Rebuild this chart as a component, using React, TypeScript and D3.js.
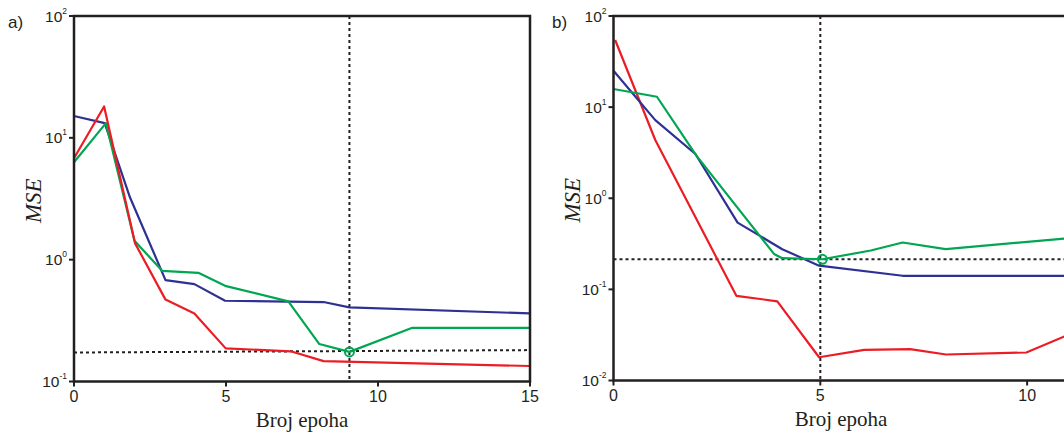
import React from 'react';
import * as d3 from 'd3';

// ---------- data ----------
const xTicksA = [0, 5, 10, 15];
const xTicksB = [0, 5, 10];
const yExpA = [-1, 0, 1, 2];
const yExpB = [-2, -1, 0, 1, 2];

// Panel a)
const aBlueX = [0, 1.01, 1.84, 3.01, 3.96, 4.97, 8.21, 9.06, 15];
const aBlueY = [15.1, 13.2, 3.25, 0.68, 0.63, 0.46, 0.449, 0.406, 0.362];
const aGreenX = [0, 1.05, 1.99, 2.9, 4.09, 4.97, 7.05, 8.07, 9.06, 11.13, 15];
const aGreenY = [6.31, 13.2, 1.43, 0.81, 0.78, 0.61, 0.455, 0.203, 0.175, 0.276, 0.276];
const aRedX = [0, 0.99, 2.01, 3.01, 3.96, 4.99, 7.13, 8.21, 15];
const aRedY = [6.8, 18.1, 1.36, 0.47, 0.362, 0.187, 0.177, 0.147, 0.134];
const aHLineX = [0, 15];
const aHLineY = [0.173, 0.181];
const aBestEpoch = 9.06;
const aBestValue = 0.175;

// Panel b)
const bRedX = [0.04, 1.01, 2.97, 3.96, 4.97, 6.06, 7.17, 8.04, 9.98, 10.9, 11];
const bRedY = [54.5, 4.36, 0.085, 0.074, 0.018, 0.0217, 0.0221, 0.0193, 0.0203, 0.0304, 0.0316];
const bBlueX = [0, 1.01, 1.98, 3.0, 4.08, 4.97, 6.99, 11];
const bBlueY = [25.1, 7.2, 3.06, 0.54, 0.276, 0.182, 0.141, 0.141];
const bGreenX = [0, 1.05, 2.0, 3.88, 4.08, 5.05, 6.22, 6.99, 8.03, 10.9, 11];
const bGreenY = [15.8, 13.0, 2.95, 0.245, 0.22, 0.214, 0.267, 0.327, 0.276, 0.361, 0.363];
const bHLineX = [0, 11];
const bHLineY = [0.214, 0.214];
const bBestEpoch = 5.05;
const bBestValue = 0.214;
const bVLineEpoch = 5;

const RED = '#ec1c24';
const BLUE = '#2e3192';
const GREEN = '#00a651';
const AXIS = '#231f20';

type Series = { xs: number[]; ys: number[]; color: string };

interface PanelProps {
  label: string;
  left: number;
  top: number;
  width: number;
  height: number;
  xMax: number;
  yMinExp: number;
  xTicks: number[];
  yExps: number[];
  series: Series[];
  hx: number[];
  hy: number[];
  vEpoch: number;
  best: [number, number];
  labelX: number;
  mseX: number;
}

function Panel(p: PanelProps) {
  const x = d3.scaleLinear().domain([0, p.xMax]).range([p.left, p.left + p.width]);
  const y = d3
    .scaleLog()
    .domain([Math.pow(10, p.yMinExp), 100])
    .range([p.top + p.height, p.top]);
  const line = d3
    .line<[number, number]>()
    .x((d) => x(d[0]))
    .y((d) => y(d[1]));
  const bottom = p.top + p.height;
  const hPts: [number, number][] = p.hx.map((v, i) => [v, p.hy[i]]);
  return (
    <g>
      <text x={p.labelX} y={28} fontFamily="Liberation Sans, Arial, sans-serif" fontSize={17} fill={AXIS}>
        {p.label}
      </text>
      {/* dotted reference lines */}
      <path d={line(hPts) || ''} fill="none" stroke={AXIS} strokeWidth={2} strokeDasharray="3,3" />
      <line
        x1={x(p.vEpoch)}
        x2={x(p.vEpoch)}
        y1={p.top}
        y2={bottom}
        stroke={AXIS}
        strokeWidth={2}
        strokeDasharray="3,3"
      />
      {p.series.map((s, i) => (
        <path
          key={i}
          d={line(s.xs.map((v, j) => [v, s.ys[j]] as [number, number])) || ''}
          fill="none"
          stroke={s.color}
          strokeWidth={2.2}
          strokeLinejoin="round"
        />
      ))}
      <circle cx={x(p.best[0])} cy={y(p.best[1])} r={4.5} fill="none" stroke={GREEN} strokeWidth={2} />
      {/* frame */}
      <rect x={p.left} y={p.top} width={p.width} height={p.height} fill="none" stroke={AXIS} strokeWidth={2.5} />
      {/* x ticks */}
      {p.xTicks.map((t) => (
        <g key={'x' + t}>
          <line x1={x(t)} x2={x(t)} y1={bottom} y2={bottom + 5} stroke={AXIS} strokeWidth={2} />
          <text
            x={x(t)}
            y={bottom + 20}
            textAnchor="middle"
            fontFamily="Liberation Sans, Arial, sans-serif"
            fontSize={16}
            fill={AXIS}
          >
            {t}
          </text>
        </g>
      ))}
      {/* y ticks */}
      {p.yExps.map((e) => {
        const yy = y(Math.pow(10, e));
        return (
          <g key={'y' + e}>
            <line x1={p.left - 5} x2={p.left} y1={yy} y2={yy} stroke={AXIS} strokeWidth={2} />
            <text
              x={p.left - 7}
              y={yy + 5.5}
              textAnchor="end"
              fontFamily="Liberation Sans, Arial, sans-serif"
              fontSize={15.5}
              fill={AXIS}
            >
              <tspan>10</tspan>
              <tspan dy={-8} fontSize={8.5}>
                {e < 0 ? '-' + Math.abs(e) : String(e)}
              </tspan>
            </text>
          </g>
        );
      })}
      <text
        x={p.left + p.width / 2}
        y={bottom + 45}
        textAnchor="middle"
        fontFamily="Liberation Serif, Times New Roman, serif"
        fontSize={21}
        fill={AXIS}
      >
        Broj epoha
      </text>
      <text
        transform={`translate(${p.mseX},${(p.top + bottom) / 2 + 2}) rotate(-90)`}
        textAnchor="middle"
        fontFamily="Liberation Serif, Times New Roman, serif"
        fontStyle="italic"
        fontSize={23}
        fill={AXIS}
      >
        MSE
      </text>
    </g>
  );
}

export default function App() {
  return (
    <svg
      width={1064}
      height={437}
      style={{ position: 'absolute', left: 0, top: 0, background: '#fff' }}
    >
      <rect x={0} y={0} width={1064} height={437} fill="#fff" />
      <Panel
        label="a)"
        left={74}
        top={16}
        width={456}
        height={365.5}
        xMax={15}
        yMinExp={-1}
        xTicks={xTicksA}
        yExps={yExpA}
        series={[
          { xs: aBlueX, ys: aBlueY, color: BLUE },
          { xs: aGreenX, ys: aGreenY, color: GREEN },
          { xs: aRedX, ys: aRedY, color: RED },
        ]}
        hx={aHLineX}
        hy={aHLineY}
        vEpoch={aBestEpoch}
        best={[aBestEpoch, aBestValue]}
        labelX={8}
        mseX={41}
      />
      <Panel
        label="b)"
        left={613.5}
        top={16}
        width={455}
        height={364.5}
        xMax={11}
        yMinExp={-2}
        xTicks={xTicksB}
        yExps={yExpB}
        series={[
          { xs: bRedX, ys: bRedY, color: RED },
          { xs: bBlueX, ys: bBlueY, color: BLUE },
          { xs: bGreenX, ys: bGreenY, color: GREEN },
        ]}
        hx={bHLineX}
        hy={bHLineY}
        vEpoch={bVLineEpoch}
        best={[bBestEpoch, bBestValue]}
        labelX={552}
        mseX={580}
      />
    </svg>
  );
}
